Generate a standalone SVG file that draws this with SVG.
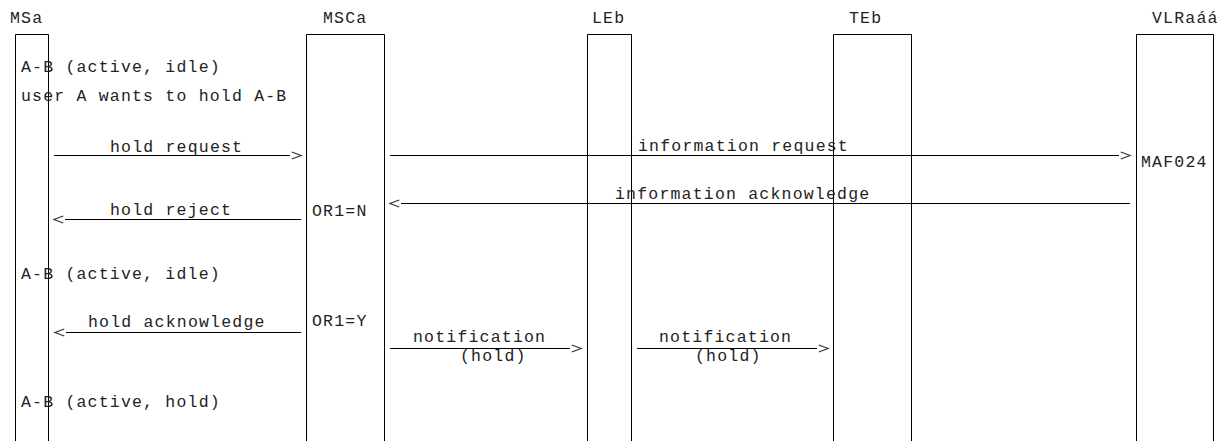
<svg xmlns="http://www.w3.org/2000/svg" width="1220" height="441" viewBox="0 0 1220 441">
<style>
text{font-family:"Liberation Mono","DejaVu Sans Mono",monospace;font-size:16.5px;letter-spacing:1.2px;fill:#222}
.box{fill:none;stroke:#000;stroke-width:1}
.msg{fill:none;stroke:#000;stroke-width:1;marker-end:url(#chev)}
</style>
<defs>
<marker id="chev" markerUnits="userSpaceOnUse" markerWidth="14" markerHeight="10" viewBox="-2 -1 12 8" refX="-1.5" refY="3" orient="auto">
<path d="M0 0 L8 3 L0 6" fill="none" stroke="#333" stroke-width="1"/>
</marker>
</defs>
<rect width="1220" height="441" fill="#fff"/>
<g id="MSa">
<text x="10" y="23">MSa</text>
<path class="box" d="M15.5 441 V34.5 H48.5 V441"/>
</g>
<g id="MSCa">
<text x="323" y="23">MSCa</text>
<path class="box" d="M306.5 441 V34.5 H384.5 V441"/>
</g>
<g id="LEb">
<text x="592" y="23">LEb</text>
<path class="box" d="M587.5 441 V34.5 H631.5 V441"/>
</g>
<g id="TEb">
<text x="849" y="23">TEb</text>
<path class="box" d="M833.5 441 V34.5 H911.5 V441"/>
</g>
<g id="VLRa">
<text x="1152" y="23">VLRaáá</text>
<path class="box" d="M1136.5 441 V34.5 H1213.5 V441"/>
<text x="1141" y="167">MAF024</text>
</g>
<g id="notes">
<text x="21" y="72">A-B (active, idle)</text>
<text x="21" y="101">user A wants to hold A-B</text>
<text x="312" y="216">OR1=N</text>
<text x="21" y="279">A-B (active, idle)</text>
<text x="312" y="326">OR1=Y</text>
<text x="21" y="407">A-B (active, hold)</text>
</g>
<g id="connectors">
<g id="m1"><path class="msg" d="M54 155.5 H290"/><text x="110" y="152">hold request</text></g>
<g id="m2"><path class="msg" d="M390 155.5 H1119"/><text x="638" y="151">information request</text></g>
<g id="m3"><path class="msg" d="M1130 203.5 H401"/><text x="615" y="199">information acknowledge</text></g>
<g id="m4"><path class="msg" d="M301 219.5 H65"/><text x="110" y="215">hold reject</text></g>
<g id="m5"><path class="msg" d="M301 332.5 H66"/><text x="88" y="327">hold acknowledge</text></g>
<g id="m6"><path class="msg" d="M390 348.5 H570"/><text x="413" y="342">notification</text><text x="460" y="361">(hold)</text></g>
<g id="m7"><path class="msg" d="M637 348.5 H817"/><text x="659" y="342">notification</text><text x="695" y="361">(hold)</text></g>
</g>
</svg>
